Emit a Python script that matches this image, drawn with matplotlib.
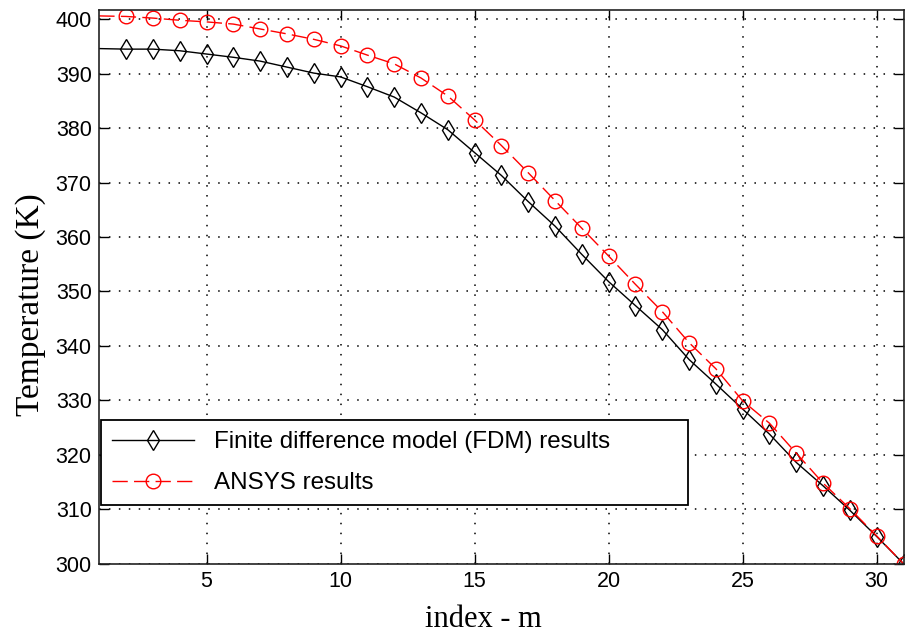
import matplotlib
matplotlib.use("Agg")
import matplotlib.pyplot as plt

# Node index along the fin
index_m = list(range(1, 32))

# Temperature (K) from the finite difference model
fdm_temp = [394.6, 394.5, 394.5, 394.2, 393.6, 393.0, 392.3, 391.2, 390.1, 389.4,
            387.6, 385.7, 382.8, 379.7, 375.5, 371.3, 366.5, 362.0, 356.8, 351.8,
            347.4, 343.0, 337.5, 333.0, 328.4, 323.8, 318.6, 314.3, 309.8, 305.0,
            300.0]

# Temperature (K) from the ANSYS simulation
ansys_temp = [400.6, 400.5, 400.2, 399.8, 399.5, 399.1, 398.2, 397.3, 396.3, 395.1,
              393.4, 391.8, 389.2, 385.9, 381.5, 376.8, 371.8, 366.7, 361.6, 356.5,
              351.3, 346.3, 340.6, 335.8, 329.9, 325.8, 320.3, 314.8, 310.1, 305.1,
              300.0]

x_ticks = [5, 10, 15, 20, 25, 30]
y_ticks = list(range(300, 401, 10))

fig = plt.figure(figsize=(9.11, 6.37), dpi=100)
ax = fig.add_axes([0.109, 0.115, 0.8828, 0.869])

ax.plot(index_m, fdm_temp, color="black", lw=1.0, marker="d", ms=10,
        mfc="none", mec="black", mew=1.0, markevery=slice(1, None),
        label="Finite difference model (FDM) results")
ax.plot(index_m, ansys_temp, color="red", lw=1.0, ls=(0, (11, 4.5)), marker="o",
        ms=10.5, mfc="none", mec="red", mew=1.0, markevery=slice(1, None),
        label="ANSYS results")

ax.set_xlim(1, 31)
ax.set_ylim(300, 401.65)
ax.set_xticks(x_ticks)
ax.set_yticks(y_ticks)

tick_font = {"family": "Liberation Sans", "size": 15.5}
ax.set_xticklabels([str(t) for t in x_ticks], fontdict=tick_font)
ax.set_yticklabels([str(t) for t in y_ticks], fontdict=tick_font)
ax.tick_params(direction="in", length=7, width=1.0, top=True, right=True,
               pad=5.5, colors="black")

ax.grid(True, color="black", ls=(0, (1, 5.5)), lw=1.1)
for sp in ax.spines.values():
    sp.set_color("#222222")
    sp.set_linewidth(1.2)

ax.set_xlabel("index - m", family="Liberation Serif", size=22)
ax.set_ylabel("Temperature (K)", family="Liberation Serif", size=24)
ax.xaxis.set_label_coords(0.477, -0.075)
ax.yaxis.set_label_coords(-0.066, 0.468)

leg = ax.legend(loc="upper left", bbox_to_anchor=(0.0017, 0.2595, 0.730, 0.0),
                mode="expand", prop={"family": "Liberation Sans", "size": 17.4},
                handlelength=3.4, handletextpad=0.85, borderpad=0.45,
                labelspacing=0.8, borderaxespad=0.0, fancybox=False,
                framealpha=1.0, edgecolor="black")
leg.get_frame().set_linewidth(1.3)

fig.savefig("out.png", dpi=100)
